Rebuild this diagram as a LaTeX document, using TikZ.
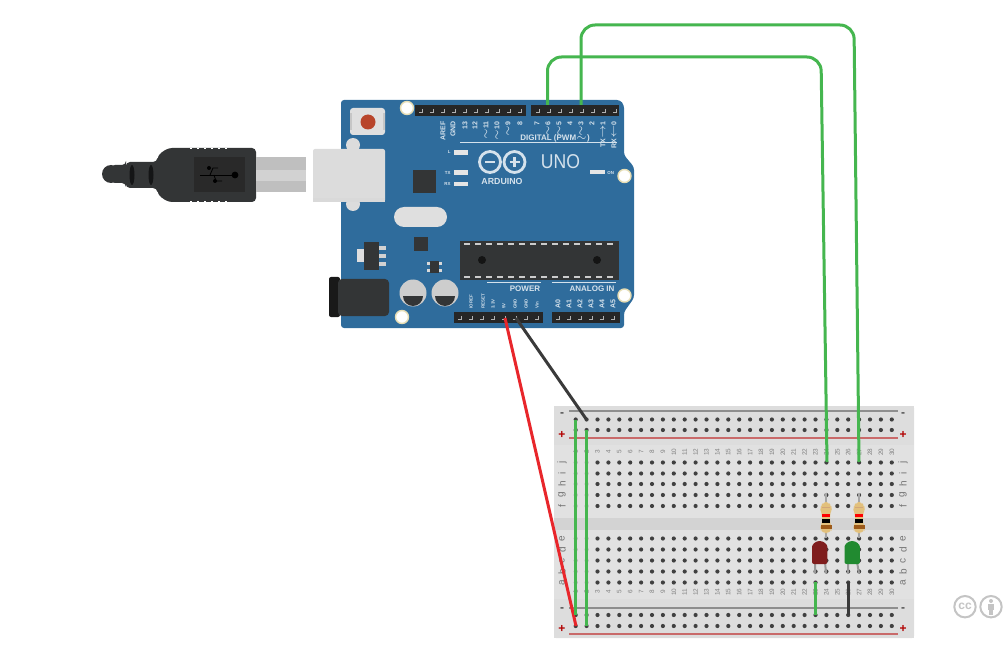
\documentclass[tikz,border=0pt]{standalone}
\usepackage{fontspec}
\setmainfont{Liberation Sans}
\definecolor{boardblue}{HTML}{2F6C9C}
\definecolor{darkpart}{HTML}{333536}
\definecolor{silk}{HTML}{D5E2EC}
\definecolor{socket}{HTML}{DCDCDC}
\definecolor{capgrey}{HTML}{CDCDCD}
\definecolor{cream}{HTML}{E6DDB4}
\definecolor{bbgrey}{HTML}{E1E1E1}
\definecolor{bbrail}{HTML}{DDDDDD}
\definecolor{bbdark}{HTML}{D3D3D3}
\definecolor{wiregreen}{HTML}{45B64F}
\definecolor{wirered}{HTML}{E8262B}
\definecolor{wireblack}{HTML}{3A3A3A}
\definecolor{railred}{HTML}{C96A6A}
\definecolor{railgrey}{HTML}{8E8E8E}
\definecolor{ccgrey}{HTML}{C4C4C4}
\definecolor{restan}{HTML}{E2C07C}
\definecolor{resbrown}{HTML}{9C5A1A}
\definecolor{ledred}{HTML}{7F1D1D}
\definecolor{ledgreen}{HTML}{218A30}
\newcommand{\tildemark}{{\fontsize{2}{2}\selectfont$\sim$}}
\newcommand{\arrowmark}[1]{{\fontsize{2}{2}\selectfont$#1$}}
\tikzset{
  x=0.5pt,y=-0.5pt,
  wire/.style={line width=1.5pt,rounded corners=7pt},
  greenwire/.style={wire,draw=wiregreen},
  silktext/.style={text=silk,font=\fontsize{3.5}{3.5}\selectfont\bfseries,inner sep=0pt},
  tinysilk/.style={silktext,font=\fontsize{2.2}{2.2}\selectfont\bfseries},
  headtext/.style={silktext,font=\fontsize{4}{4}\selectfont\bfseries},
  mount/.style={fill=white,draw=cream,line width=0.7pt},
  indicator/.style={fill=gray!20},
  pinmark/.style={draw=gray!60,line width=0.4pt},
  bbtext/.style={text=black!50,font=\fontsize{3.2}{3.2}\selectfont,rotate=90,inner sep=0pt},
  bbletter/.style={text=black!55,font=\fontsize{5}{5}\selectfont,rotate=90,inner sep=0pt},
  railsign/.style={font=\fontsize{6}{6}\selectfont\bfseries,inner sep=0pt},
}
\begin{document}
\begin{tikzpicture}
\useasboundingbox (0,0) rectangle (1008,647);

% usb plug
\fill[darkpart,rounded corners=2pt] (111,165) -- (126,165) -- (126,162) -- (157,162) -- (158,155) -- (168,148) -- (256,148) -- (256,202) -- (168,202) -- (158,195) -- (157,188) -- (126,188) -- (126,183) -- (111,183) -- cycle;
\fill[darkpart] (111,174) circle (9);
\draw[white,dash pattern=on 1pt off 2.5pt,line width=0.5pt] (190,148.3) -- (230,148.3);
\draw[white,dash pattern=on 1pt off 2.5pt,line width=0.5pt] (190,201.7) -- (230,201.7);
\fill[black!84] (194,157) rectangle (245,192);
\fill[black!60!darkpart] (132,175) ellipse (2.5 and 10);
\fill[black!60!darkpart] (151,175) ellipse (2.5 and 10);
\draw[black,line width=0.4pt] (200,175) -- (235,175);
\draw[black,line width=0.4pt] (210,175) -- (213,168) -- (218,168) (214,175) -- (216,181) -- (222,181);
\fill[black] (235,175) circle (3.4);
\fill[black] (209,168) circle (2);
\fill[black] (215,181) circle (2);
\fill[gray!50] (256,157) rectangle (306,192);
\fill[gray!35] (256,170) rectangle (306,181);

% board
\fill[boardblue,rounded corners=1.5pt] (341,100) -- (620,100) -- (624,105) -- (624,155) -- (634,167) -- (634,298) -- (624,312) -- (624,328) -- (341,328) -- cycle;

% usb socket
\fill[socket] (353,145) circle (7);
\fill[socket] (353,204) circle (7);
\fill[socket,rounded corners=1pt] (313,149) rectangle (385,202);
\fill[gray!30] (313,198) rectangle (385,202);

% reset button
\fill[gray!25,rounded corners=1.5pt] (350,108) rectangle (385,135);
\fill[gray!45] (350,113) rectangle (352,130);
\fill[gray!45] (383,113) rectangle (385,130);
\fill[fill={rgb,255:red,184;green,69;blue,43}] (368,122) circle (7.5);

% headers
\fill[black!85] (415,105) rectangle (526,116);
\fill[black!85] (531,105) rectangle (619,116);
\fill[black!85] (454,312) rectangle (543,323);
\fill[black!85] (552,312) rectangle (620,323);
\foreach \i in {0,...,9} \draw[pinmark] (422+\i*11,109) -- +(0,3) -- +(-3,3);
\foreach \i in {0,...,7} \draw[pinmark] (539+\i*11,109) -- +(0,3) -- +(-3,3);
\foreach \i in {0,...,7} \draw[pinmark] (461+\i*11,316) -- +(0,3) -- +(-3,3);
\foreach \i in {0,...,5} \draw[pinmark] (559+\i*11,316) -- +(0,3) -- +(-3,3);

% mounting holes
\fill[mount] (407,108) circle (6.5);
\fill[mount] (624.5,176) circle (6.5);
\fill[mount] (624.5,295.5) circle (6.5);
\fill[mount] (402,317) circle (6.5);

% ic and parts
\fill[darkpart] (413,170) rectangle (436,193);
\fill[gray!25,rounded corners=5pt] (394,207) rectangle (447,227);
\fill[darkpart] (414,237) rectangle (428,251);
\fill[darkpart] (364,242) rectangle (379,270);
\fill[gray!25] (357,249) rectangle (364,262);
\fill[gray!35] (379,246) rectangle (386,250);
\fill[gray!35] (379,254) rectangle (386,258);
\fill[gray!35] (379,262) rectangle (386,266);
\fill[darkpart] (430,261) rectangle (439,273);
\fill[gray!30] (427,262) rectangle (430,265);
\fill[gray!30] (427,269) rectangle (430,272);
\fill[gray!30] (439,262) rectangle (442,265);
\fill[gray!30] (439,269) rectangle (442,272);
\fill[darkpart] (459.5,241) rectangle (619,280);
\foreach \i in {0,...,13} {
  \fill[gray!40] (464+\i*11,243) rectangle +(6,2);
  \fill[gray!40] (464+\i*11,276) rectangle +(6,2);
}
\fill[black!92] (482,260) circle (4);
\fill[black!92] (597,260) circle (4);

% power jack
\fill[black!90,rounded corners=1pt] (329,277) rectangle (340,317);
\fill[darkpart,rounded corners=2pt] (338,279) rectangle (389,316);

% capacitors
\foreach \xc in {413,445} {
  \fill[capgrey] (\xc,293) circle (13.5);
  \fill[darkpart] (\xc-10,296) arc[start angle=180,end angle=0,radius=10] -- cycle;
}

% silkscreen text
\foreach \x/\t in {443/AREF,453/GND,465/13,475/12,486/\tildemark 11,497/\tildemark 10,508/\tildemark 9,520/8,537/7,548/\tildemark 6,559/\tildemark 5,570/4,581/\tildemark 3,592/2,603/TX\arrowmark{\rightarrow}1,614/RX\arrowmark{\leftarrow}0}
  \node[silktext,rotate=90,anchor=east] at (\x,121) {\t};
\node[headtext] (dig) at (555,138) {DIGITAL (PWM\tildemark)};
\draw[silk,line width=0.5pt] (460,142.5) -- (617,142.5);
\node[tinysilk,anchor=east] (ll) at (451,152) {L};
\node[tinysilk,anchor=east] (tx) at (451,172.5) {TX};
\node[tinysilk,anchor=east] (rx) at (451,184) {RX};
\fill[indicator] (454,150) rectangle (468,155);
\fill[indicator] (454,170.5) rectangle (468,175);
\fill[indicator] (454,182) rectangle (468,186.5);
\fill[indicator] (590,170.5) rectangle (605,174.5);
\node[tinysilk,anchor=west] (on) at (607,172.5) {ON};
% infinity logo
\draw[silk,line width=1.4pt] (490,162) circle (10.5);
\draw[silk,line width=1.4pt] (514.5,162) circle (10.5);
\draw[silk,line width=1.1pt] (485,162) -- (495,162);
\draw[silk,line width=1.1pt] (509.5,162) -- (519.5,162) (514.5,157) -- (514.5,167);
\node[silktext,font=\fontsize{4.4}{4.4}\selectfont\bfseries] (ard) at (502,181) {ARDUINO};
\node[text=silk,font=\fontsize{10}{10}\selectfont,inner sep=0pt] (uno) at (560.5,162) {\scalebox{0.88}[1]{UNO}};
\node[headtext] (pw) at (525,289) {POWER};
\node[headtext] (ana) at (592,289) {ANALOG IN};
\draw[silk,line width=0.5pt] (487,283) -- (541,283) (552,283) -- (616,283);
\foreach \x/\t in {471/IOREF,483/RESET,493/3.3V,504/5V,515/GND,526/GND,537/Vin}
  \node[tinysilk,rotate=90,anchor=west] at (\x,309) {\t};
\foreach \x/\t in {558/A0,569/A1,580/A2,591/A3,602/A4,613/A5}
  \node[silktext,rotate=90,anchor=west] at (\x,309) {\t};

% breadboard
\fill[bbgrey,rounded corners=1pt] (554,406) rectangle (914,638);
\fill[bbrail] (554,406) rectangle (914,445);
\fill[bbrail] (554,599) rectangle (914,638);
\fill[bbdark] (554,518) rectangle (914,530);
\draw[railgrey,line width=0.8pt] (569,411) -- (898,411);
\draw[railred,line width=0.8pt] (569,438) -- (898,438);
\draw[railgrey,line width=0.8pt] (569,608) -- (898,608);
\draw[railred,line width=0.8pt] (569,634) -- (898,634);
\foreach \i in {0,...,29} {
  \foreach \y in {419.5,430,615,626}
    \fill[black!75] (575.7+\i*10.9,\y) circle (2.1);
}
\foreach \i in {2,...,29} {
  \foreach \y in {462.5,473.5,484,495,506,538.5,549.5,560.5,571.5,582.5}
    \fill[black!75] (575.7+\i*10.9,\y) circle (2.1);
}
\foreach \i in {0,1} {
  \foreach \y in {462.5,473.5,484,495,506,538.5,549.5,560.5,571.5,582.5}
    \fill[black!30] (575.7+\i*10.9,\y) circle (2.1);
}
\foreach \i [evaluate=\i as \n using int(\i+1)] in {0,...,29} {
  \node[bbtext] at (575.7+\i*10.9,452) {\n};
  \node[bbtext] at (575.7+\i*10.9,592) {\n};
}
\foreach \xl in {562,903} {
  \node[railsign,text=black!70] at (\xl,415) {-};
  \node[railsign,text=red!70!black] at (\xl,435) {+};
  \node[railsign,text=black!70] at (\xl,610) {-};
  \node[railsign,text=red!70!black] at (\xl,629) {+};
  \foreach \y/\t in {462.5/j,473.5/i,484/h,495/g,506/f,538.5/e,549.5/d,560.5/c,571.5/b,582.5/a}
    \node[bbletter] at (\xl,\y) {\t};
}

% resistors
\foreach \xr in {826,859} {
  \draw[gray!70,line width=1pt] (\xr,493) -- (\xr,538);
  \fill[restan,rounded corners=2pt] (\xr-5.5,506) -- (\xr-2,502) -- (\xr+2,502) -- (\xr+5.5,506) -- (\xr+5.5,510) -- (\xr+4,513) -- (\xr+4,524) -- (\xr+5.5,527) -- (\xr+5.5,530) -- (\xr+2,533) -- (\xr-2,533) -- (\xr-5.5,530) -- (\xr-5.5,527) -- (\xr-4,524) -- (\xr-4,513) -- (\xr-5.5,510) -- cycle;
  \fill[brown!70] (\xr-4,506.5) rectangle (\xr+4,507.5);
  \fill[red] (\xr-4,513.5) rectangle (\xr+4,517);
  \fill[black] (\xr-4,519) rectangle (\xr+4,523);
  \fill[resbrown] (\xr-5.5,525) rectangle (\xr+5.5,529);
}

% leds
\draw[gray!80,line width=1pt] (815,562) -- (815,573) (825,562) -- (826,573);
\draw[gray!80,line width=1pt] (848,562) -- (848,573) (857,562) -- (859,573);
\fill[ledred,rounded corners=1pt] (812,564) -- (812,549) arc[start angle=180,end angle=360,x radius=7.7,y radius=8] -- (827.4,564) -- cycle;
\fill[ledgreen,rounded corners=1pt] (844.5,564) -- (844.5,549) arc[start angle=180,end angle=360,x radius=7.7,y radius=8] -- (860,564) -- cycle;

% wire ends
\coordinate (d6) at (547.5,105);
\coordinate (d3) at (581,105);
\coordinate (e25) at (827,462);
\coordinate (e28) at (859,462);
\coordinate (v5) at (505,318);
\coordinate (gnd2) at (516,318);
\coordinate (railp) at (576,626);
\coordinate (railn) at (586.5,419.5);
\coordinate (railj1) at (575.7,419.5);
\coordinate (raila1) at (575.7,615);
\coordinate (railj2) at (586.5,430);
\coordinate (raila2) at (586.5,626);
\coordinate (ledr) at (815,582);
\coordinate (ledrn) at (815,615);
\coordinate (ledg) at (848,582);
\coordinate (ledgn) at (848,615);

\draw[greenwire] (d6) -- (547.5,57) -- (821,57) -- (e25);
\draw[greenwire] (d3) -- (581,25) -- (854,25) -- (e28);
\draw[line width=1.5pt,draw=wirered] (v5) -- (railp);
\draw[line width=1.5pt,draw=wireblack] (gnd2) -- (railn);
\draw[greenwire] (railj1) -- (raila1);
\draw[greenwire] (railj2) -- (raila2);
\draw[greenwire] (ledr) -- (ledrn);
\draw[line width=1.5pt,draw=wireblack] (ledg) -- (ledgn);

% cc badge
\draw[ccgrey,line width=1pt,fill=white] (965,606.7) circle (10.7);
\draw[ccgrey,line width=1pt,fill=white] (991,606.7) circle (10.7);
\node[text=ccgrey,font=\fontsize{6}{6}\selectfont\bfseries,inner sep=0pt] (cc) at (965,606) {cc};
\fill[ccgrey] (991,601) circle (2);
\fill[ccgrey] (988,604) rectangle (994,610);
\fill[ccgrey] (989.3,610) rectangle (992.7,615);
\end{tikzpicture}
\end{document}
